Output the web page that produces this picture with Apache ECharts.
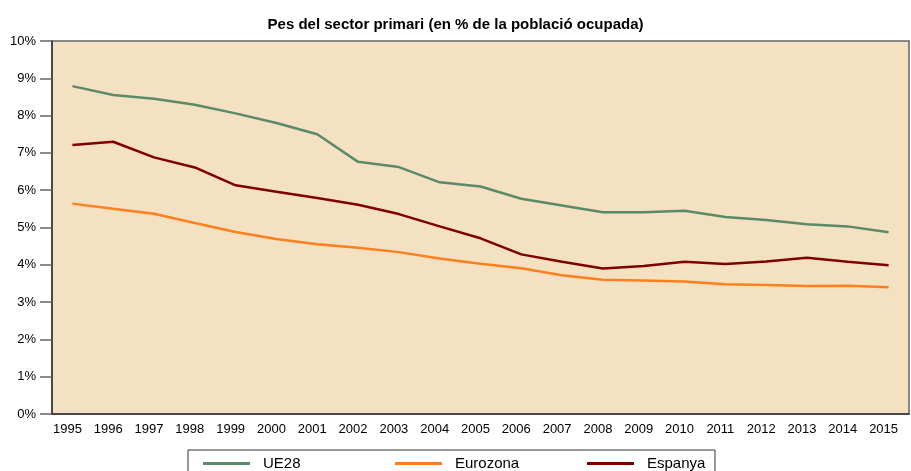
<!DOCTYPE html>
<html>
<head>
<meta charset="utf-8">
<script src="https://cdn.jsdelivr.net/npm/echarts@6/dist/echarts.min.js"></script>
<style>
  html, body { margin: 0; padding: 0; background: #fff; }
  #chart { width: 911px; height: 471px; }
</style>
</head>
<body>
<div id="chart"></div>
<script>
// years on the x axis
const years = ["1995", "1996", "1997", "1998", "1999", "2000", "2001", "2002", "2003", "2004",
  "2005", "2006", "2007", "2008", "2009", "2010", "2011", "2012", "2013", "2014", "2015"];

// % of employed population in primary sector
const ue28 = [8.79, 8.55, 8.45, 8.29, 8.06, 7.80, 7.50, 6.76, 6.62, 6.21,
  6.10, 5.77, 5.59, 5.41, 5.41, 5.45, 5.28, 5.20, 5.09, 5.03, 4.87];
const eurozona = [5.64, 5.50, 5.37, 5.12, 4.88, 4.69, 4.55, 4.46, 4.34, 4.17,
  4.03, 3.91, 3.72, 3.60, 3.58, 3.55, 3.48, 3.46, 3.43, 3.44, 3.40];
const espanya = [7.21, 7.30, 6.88, 6.61, 6.13, 5.96, 5.79, 5.61, 5.36, 5.03,
  4.71, 4.28, 4.08, 3.90, 3.97, 4.08, 4.02, 4.09, 4.19, 4.08, 3.99];

const names = ["UE28", "Eurozona", "Espanya"];
const colors = ["#5b8a69", "#ff7f1c", "#800000"];

const chart = echarts.init(document.getElementById("chart"));

const font = "'Liberation Sans', Arial, sans-serif";
const legendPos = [203, 395, 587];

const option = {
  animation: false,
  title: {
    text: "Pes del sector primari (en % de la població ocupada)",
    left: "center",
    top: 12,
    textStyle: { fontFamily: font, fontSize: 15, fontWeight: "bold", color: "#000" }
  },
  grid: {
    left: 52,
    right: 2,
    top: 41,
    bottom: 57,
    show: true,
    backgroundColor: "#f4e1c1",
    borderColor: "#666",
    borderWidth: 1.5
  },
  xAxis: {
    type: "category",
    data: years,
    boundaryGap: true,
    axisLine: { lineStyle: { color: "#333", width: 1.5 } },
    axisTick: { show: false },
    axisLabel: { color: "#000", fontFamily: font, fontSize: 13, margin: 9, padding: [0, 10, 0, 0] }
  },
  yAxis: {
    type: "value",
    min: 0,
    max: 10,
    interval: 1,
    axisLine: { show: true, lineStyle: { color: "#333", width: 1.5 } },
    axisTick: { show: true, length: 12, lineStyle: { color: "#666", width: 1.5 } },
    splitLine: { show: false },
    axisLabel: { formatter: "{value}%", color: "#000", fontFamily: font, fontSize: 13, margin: 16, padding: [3, 0, 0, 0] }
  },
  legend: names.map((n, i) => ({
    data: [n],
    left: legendPos[i],
    top: 456,
    icon: "rect",
    itemWidth: 47,
    itemHeight: 3,
    padding: 0,
    textStyle: { fontFamily: font, fontSize: 15, color: "#000", padding: [0, 0, 0, 8] }
  })),
  graphic: [{
    type: "rect",
    shape: { x: 188, y: 450, width: 527, height: 30 },
    style: { fill: "#fff", stroke: "#333", lineWidth: 1 },
    z: -1
  }],
  series: [ue28, eurozona, espanya].map((d, i) => ({
    name: names[i],
    type: "line",
    data: d,
    showSymbol: false,
    symbol: "none",
    color: colors[i],
    lineStyle: { width: 2.5, color: colors[i] }
  }))
};

chart.setOption(option);
</script>
</body>
</html>
